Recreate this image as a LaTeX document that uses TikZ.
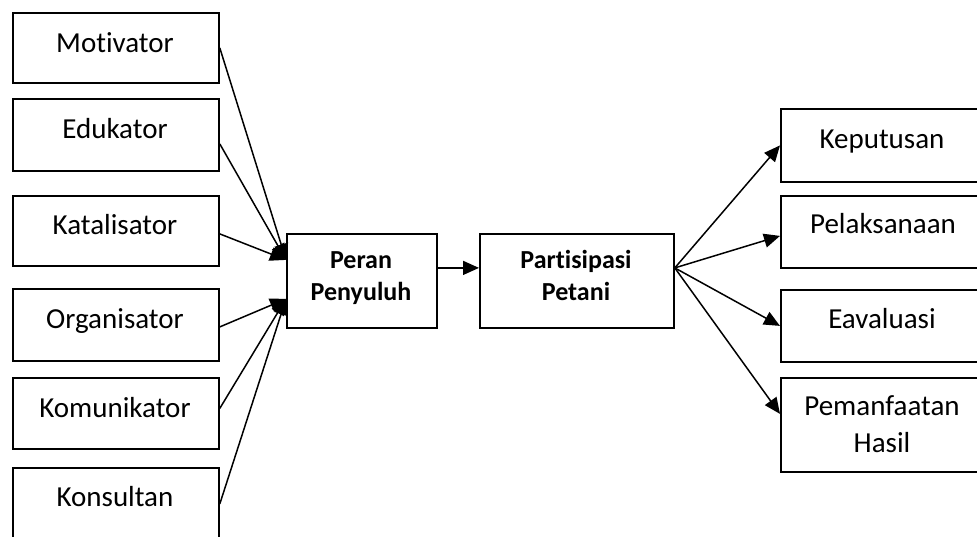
\documentclass[tikz,border=0pt]{standalone}
\usepackage{fontspec}
\setmainfont{Carlito}[Ligatures={NoCommon,NoRare,NoContextual},Contextuals=NoAlternate]
\usetikzlibrary{arrows.meta}
\begin{document}
\begin{tikzpicture}[x=1pt,y=-1pt,
  box/.style={draw,line width=1.8pt,inner sep=0pt,anchor=north west},
  lbl/.style={anchor=base,inner sep=0pt,font=\fontsize{29}{35}\selectfont,align=center},
  blbl/.style={anchor=base,inner sep=0pt,font=\fontsize{26}{32}\selectfont\bfseries,align=center},
  conn/.style={line width=1.5pt,-{Triangle[length=16pt,width=14pt]}}]
\useasboundingbox (0,0) rectangle (977,536);
% left boxes
\node[box,minimum width=206pt,minimum height=70pt] (mot) at (12,12) {};
\node[box,minimum width=206pt,minimum height=72pt] (edu) at (12,98) {};
\node[box,minimum width=206pt,minimum height=70pt] (kat) at (12,195) {};
\node[box,minimum width=206pt,minimum height=72pt] (org) at (12,288) {};
\node[box,minimum width=206pt,minimum height=71pt] (kom) at (12,377) {};
\node[box,minimum width=206pt,minimum height=80pt] (kon) at (12,467) {};
\node[lbl] (mot-t) at (115,52) {Motivator};
\node[lbl] (edu-t) at (115,138) {Edukator};
\node[lbl] (kat-t) at (115,234) {Katalisator};
\node[lbl] (org-t) at (115,328) {Organisator};
\node[lbl] (kom-t) at (115,417) {Komunikator};
\node[lbl] (kon-t) at (115,506) {Konsultan};
% middle boxes
\node[box,minimum width=150pt,minimum height=94pt] (per) at (286,233) {};
\node[box,minimum width=194pt,minimum height=94pt] (par) at (479,233) {};
\node[blbl] (per-t) at (361,268) {Peran};
\node[blbl] (per-t2) at (361,300) {Penyuluh};
\node[blbl] (par-t) at (576,268) {Partisipasi};
\node[blbl] (par-t2) at (576,300) {Petani};
% right boxes
\node[box,minimum width=205pt,minimum height=73pt] (kep) at (780,108) {};
\node[box,minimum width=205pt,minimum height=72pt] (pel) at (780,195) {};
\node[box,minimum width=205pt,minimum height=72pt] (eva) at (780,289) {};
\node[box,minimum width=205pt,minimum height=94pt] (pem) at (780,377) {};
\node[lbl] (kep-t) at (882,148) {Keputusan};
\node[lbl] (pel-t) at (883,233) {Pelaksanaan};
\node[lbl] (eva-t) at (882,328) {Eavaluasi};
\node[lbl] (pem-t) at (882,415) {Pemanfaatan};
\node[lbl] (pem-t2) at (882,452) {Hasil};
% connectors left
\draw[conn] (mot.east) -- ([yshift=21pt]per.west);
\draw[conn] ([yshift=-9pt]edu.east) -- ([yshift=21pt]per.west);
\draw[conn] ([yshift=-3pt]kat.east) -- ([yshift=21pt]per.west);
\draw[conn] ([yshift=-2pt]org.east) -- ([yshift=-18pt]per.west);
\draw[conn] ([yshift=5pt]kom.east) -- ([yshift=-18pt]per.west);
\draw[conn] ([yshift=4pt]kon.east) -- ([yshift=-18pt]per.west);
% middle
\draw[conn] ([yshift=13pt]per.east) -- ([yshift=13pt]par.west);
% right
\draw[conn] ([yshift=13pt]par.east) -- (kep.west);
\draw[conn] ([yshift=13pt]par.east) -- ([yshift=-4pt]pel.west);
\draw[conn] ([yshift=13pt]par.east) -- (eva.west);
\draw[conn] ([yshift=13pt]par.east) -- ([yshift=11pt]pem.west);
\end{tikzpicture}
\end{document}
